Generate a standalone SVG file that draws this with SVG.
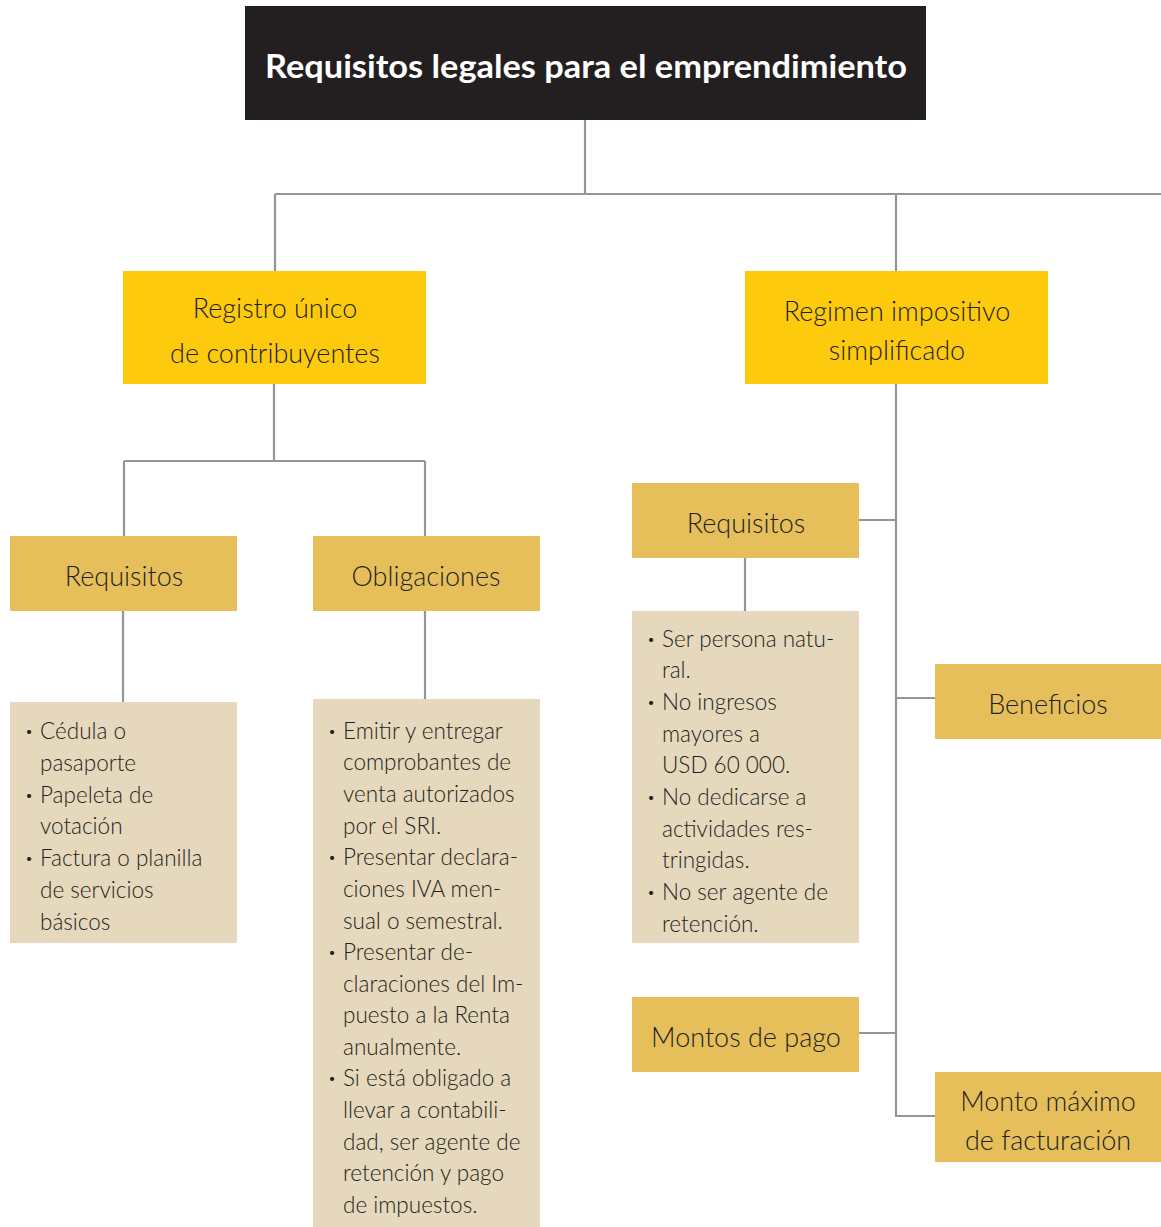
<svg xmlns="http://www.w3.org/2000/svg" width="1161" height="1227" viewBox="0 0 1161 1227">
<style>
.c{fill:none;stroke:#939598;stroke-width:2.2}
.y{fill:#fdca0d}
.g{fill:#e6bf5b}
.b{fill:#e6d8bc}
.t{font-family:Lato,"Open Sans",sans-serif;fill:#231f20;font-weight:300}
.h{font-size:27px;text-anchor:middle}
.l{font-size:22.5px}
.d{font-size:14px}
</style>
<rect width="1161" height="1227" fill="#fff"/>
<g id="connectors">
<path class="c" d="M585 120V194M275 194H1161M275 194V271M896 194V271"/>
<path class="c" d="M274 384V461M124 461H425M124 461V536M425 461V536"/>
<path class="c" d="M123 611V702M425 611V699"/>
<path class="c" d="M896 384V1116H935M859 520H896M896 698H935M859 1033H896M745 558V611"/>
</g>
<g id="title">
<rect x="245" y="6" width="681" height="114" fill="#231f20"/>
<text x="586" y="78" font-family="Lato,'Open Sans',sans-serif" font-weight="bold" font-size="33" fill="#fff" text-anchor="middle" textLength="642" lengthAdjust="spacingAndGlyphs">Requisitos legales para el emprendimiento</text>
</g>
<g id="registro">
<rect class="y" x="123" y="271" width="303" height="113"/>
<text class="t h" x="275" y="318">Registro único</text>
<text class="t h" x="275" y="363">de contribuyentes</text>
</g>
<g id="regimen">
<rect class="y" x="745" y="271" width="303" height="113"/>
<text class="t h" x="897" y="321">Regimen impositivo</text>
<text class="t h" x="897" y="360">simplificado</text>
</g>
<g id="requisitos-ruc">
<rect class="g" x="10" y="536" width="227" height="75"/>
<text class="t h" x="124" y="586">Requisitos</text>
</g>
<g id="obligaciones">
<rect class="g" x="313" y="536" width="227" height="75"/>
<text class="t h" x="426" y="586">Obligaciones</text>
</g>
<g id="requisitos-ruc-lista">
<rect class="b" x="10" y="702" width="227" height="241"/>
<text class="t d"><tspan x="25" y="736">•</tspan><tspan x="25" y="800">•</tspan><tspan x="25" y="863">•</tspan></text>
<text class="t l">
<tspan x="40" y="739">Cédula o</tspan>
<tspan x="40" y="771">pasaporte</tspan>
<tspan x="40" y="803">Papeleta de</tspan>
<tspan x="40" y="834">votación</tspan>
<tspan x="40" y="866">Factura o planilla</tspan>
<tspan x="40" y="898">de servicios</tspan>
<tspan x="40" y="930">básicos</tspan>
</text>
</g>
<g id="obligaciones-lista">
<rect class="b" x="313" y="699" width="227" height="528"/>
<text class="t d"><tspan x="328" y="736">•</tspan><tspan x="328" y="862">•</tspan><tspan x="328" y="957">•</tspan><tspan x="328" y="1083">•</tspan></text>
<text class="t l">
<tspan x="343" y="739">Emitir y entregar</tspan>
<tspan x="343" y="770">comprobantes de</tspan>
<tspan x="343" y="802">venta autorizados</tspan>
<tspan x="343" y="834">por el SRI.</tspan>
<tspan x="343" y="865">Presentar declara-</tspan>
<tspan x="343" y="897">ciones IVA men-</tspan>
<tspan x="343" y="929">sual o semestral.</tspan>
<tspan x="343" y="960">Presentar de-</tspan>
<tspan x="343" y="992">claraciones del Im-</tspan>
<tspan x="343" y="1023">puesto a la Renta</tspan>
<tspan x="343" y="1055">anualmente.</tspan>
<tspan x="343" y="1086">Si está obligado a</tspan>
<tspan x="343" y="1118">llevar a contabili-</tspan>
<tspan x="343" y="1150">dad, ser agente de</tspan>
<tspan x="343" y="1181">retención y pago</tspan>
<tspan x="343" y="1213">de impuestos.</tspan>
</text>
</g>
<g id="requisitos-rise">
<rect class="g" x="632" y="483" width="227" height="75"/>
<text class="t h" x="746" y="533">Requisitos</text>
</g>
<g id="requisitos-rise-lista">
<rect class="b" x="632" y="611" width="227" height="332"/>
<text class="t d"><tspan x="647" y="644">•</tspan><tspan x="647" y="707">•</tspan><tspan x="647" y="802">•</tspan><tspan x="647" y="897">•</tspan></text>
<text class="t l">
<tspan x="662" y="647">Ser persona natu-</tspan>
<tspan x="662" y="678">ral.</tspan>
<tspan x="662" y="710">No ingresos</tspan>
<tspan x="662" y="742">mayores a</tspan>
<tspan x="662" y="773">USD 60 000.</tspan>
<tspan x="662" y="805">No dedicarse a</tspan>
<tspan x="662" y="837">actividades res-</tspan>
<tspan x="662" y="868">tringidas.</tspan>
<tspan x="662" y="900">No ser agente de</tspan>
<tspan x="662" y="932">retención.</tspan>
</text>
</g>
<g id="beneficios">
<rect class="g" x="935" y="664" width="226" height="75"/>
<text class="t h" x="1048" y="714">Beneficios</text>
</g>
<g id="montos-pago">
<rect class="g" x="632" y="997" width="227" height="75"/>
<text class="t h" x="746" y="1047">Montos de pago</text>
</g>
<g id="monto-maximo">
<rect class="g" x="935" y="1072" width="226" height="90"/>
<text class="t h" x="1048" y="1111">Monto máximo</text>
<text class="t h" x="1048" y="1150">de facturación</text>
</g>
</svg>
